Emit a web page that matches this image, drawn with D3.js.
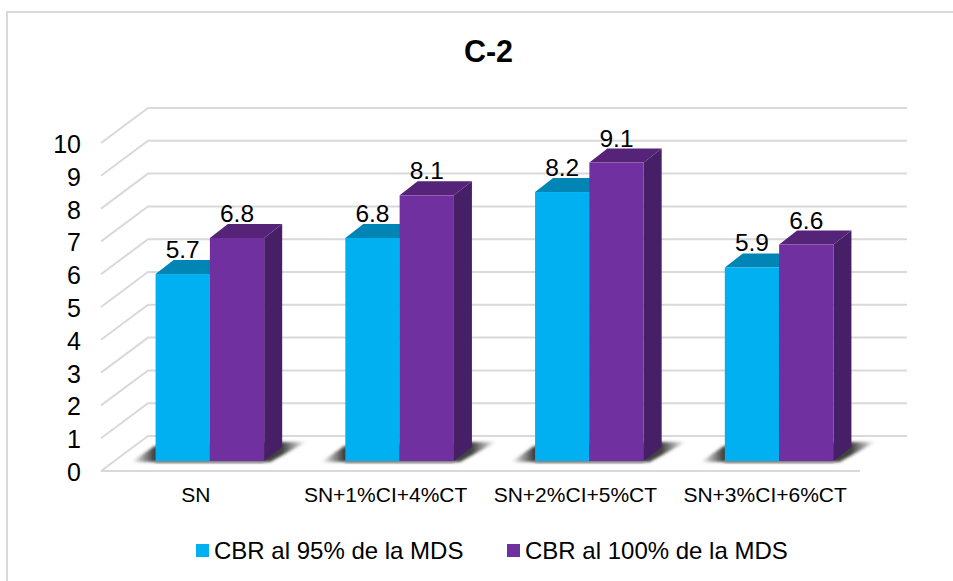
<!DOCTYPE html>
<html><head><meta charset="utf-8">
<script src="https://d3js.org/d3.v7.min.js"></script>
<style>
html,body{margin:0;padding:0;background:#fff}
svg{display:block}
text{font-family:"Liberation Sans",Arial,sans-serif;fill:#000}
</style></head><body>
<svg id="c" width="953" height="581"></svg>
<script>
const categories = ["SN","SN+1%CI+4%CT","SN+2%CI+5%CT","SN+3%CI+6%CT"];
const seriesNames = ["CBR al 95% de la MDS","CBR al 100% de la MDS"];
const cbr95 = [5.7,6.8,8.2,5.9];
const cbr100 = [6.8,8.1,9.1,6.6];
const yTicks = [0,1,2,3,4,5,6,7,8,9,10];
const seriesValues = [cbr95,cbr100];
const faceColors = ["#00b0f0","#7030a0"];
const topColors = ["#0085b4","#552479"];
const sideColors = ["#006f96","#471f66"];

const svg = d3.select("#c");
const defs = svg.append("defs");
const blur = defs.append("filter").attr("id","blur").attr("x","-20%").attr("y","-50%").attr("width","140%").attr("height","200%");
blur.append("feGaussianBlur").attr("stdDeviation",1.6);
const grad = defs.append("linearGradient").attr("id","shadow");
[[0,0],[0.13,0.9],[0.86,0.9],[1,0]].forEach(s=>grad.append("stop").attr("offset",s[0]).attr("stop-color","#2b2b2b").attr("stop-opacity",s[1]));

// frame
svg.append("path").attr("d","M7,581V12H953").attr("fill","none").attr("stroke","#d9d9d9").attr("stroke-width",2);

const left=101,right=860,y0=471,y10=143;
const wall={dx:47,dy:-35}, bar={dx:14,dy:-10}, depth={dx:18,dy:-14};
const x = d3.scaleBand().domain(categories).range([left,right]);
const inner = 108.6;
const xs = d3.scaleBand().domain(d3.range(seriesNames.length)).range([(x.bandwidth()-inner)/2,(x.bandwidth()+inner)/2]);
const y = d3.scaleLinear().domain([0,10]).range([y0,y10]);

// gridlines
const grid = svg.append("g").attr("fill","none").attr("stroke","#d9d9d9").attr("stroke-width",2);
yTicks.forEach(t=>{
  grid.append("path").attr("d",d3.line()([[left,y(t)],[left+wall.dx,y(t)+wall.dy],[right+wall.dx,y(t)+wall.dy]]));
});
grid.append("line").attr("x1",left).attr("x2",right).attr("y1",y(0)).attr("y2",y(0));

// axes text
const axisY = d3.axisLeft(y).tickValues(yTicks).tickSize(0).tickPadding(0);
const gy = svg.append("g").attr("transform","translate(81,1.5)").call(axisY);
gy.select(".domain").remove();
gy.selectAll("text").attr("font-size",25).attr("font-family",'"Liberation Sans"').attr("fill","#000");

const axisX = d3.axisBottom(x).tickSize(0).tickPadding(0);
const gx = svg.append("g").attr("transform","translate(0,487)").call(axisX);
gx.select(".domain").remove();
gx.selectAll("text").attr("font-size",21).attr("font-family",'"Liberation Sans"').attr("fill","#000");

// bars
categories.forEach((c,i)=>{
  const g = svg.append("g");
  const bx0 = x(c)+xs(0)+bar.dx, bx1 = x(c)+xs(1)+xs.bandwidth()+bar.dx;
  const by = y(0)+bar.dy;
  g.append("path").attr("filter","url(#blur)").attr("fill","url(#shadow)")
    .attr("d",d3.line()([[bx0-24,by+1],[bx0-1,by-15],[bx1+18,by-19],[bx1+42,by-19],[bx1+6,by+1]])+"Z");
  g.append("rect").attr("x",bx0).attr("y",by).attr("width",bx1-bx0).attr("height",2).attr("fill","#888").attr("filter","url(#blur)");
  seriesValues.forEach((vals,s)=>{
    const v = vals[i], bx = x(c)+xs(s)+bar.dx, w = xs.bandwidth(), ty = y(v)+bar.dy;
    const d=depth;
    g.append("path").attr("fill",sideColors[s])
      .attr("d",d3.line()([[bx+w,ty],[bx+w+d.dx,ty+d.dy],[bx+w+d.dx,by+d.dy],[bx+w,by]])+"Z");
    g.append("path").attr("fill",topColors[s])
      .attr("d",d3.line()([[bx,ty],[bx+d.dx,ty+d.dy],[bx+w+d.dx,ty+d.dy],[bx+w,ty]])+"Z");
    g.append("rect").attr("x",bx).attr("y",ty).attr("width",w).attr("height",by-ty).attr("fill",faceColors[s]);
  });
});
// value labels
categories.forEach((c,i)=>{
  seriesValues.forEach((vals,s)=>{
    const v=vals[i];
    svg.append("text").attr("text-anchor","middle").attr("font-size",24.5)
      .attr("x",x(c)+xs(s)+xs.bandwidth()/2+bar.dx)
      .attr("y",y(v)+bar.dy+depth.dy-2).text(d3.format(".1f")(v));
  });
});

// title
svg.append("text").attr("x",488.5).attr("y",62).attr("text-anchor","middle").attr("font-size",30.5).attr("font-weight","bold").text("C-2");

// legend
const legendX=[196,507];
seriesNames.forEach((n,s)=>{
  svg.append("rect").attr("x",legendX[s]).attr("y",544).attr("width",13).attr("height",13).attr("fill",faceColors[s]);
  svg.append("text").attr("x",legendX[s]+18).attr("y",559).attr("font-size",24).text(n);
});
</script>
</body></html>
